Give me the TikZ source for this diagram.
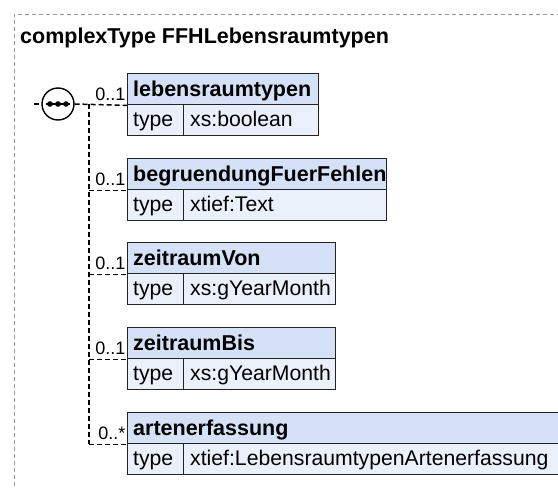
\documentclass[tikz,border=0pt]{standalone}
\usepackage{fontspec}
\setmainfont{Liberation Sans}
\definecolor{hdrblue}{RGB}{213,225,246}
\definecolor{rowblue}{RGB}{235,241,251}
\definecolor{edge}{RGB}{35,35,35}
\definecolor{framegray}{RGB}{150,150,150}
\tikzset{
  frameline/.style={draw=framegray, line width=0.8pt, dash pattern=on 4pt off 3pt},
  conn/.style={draw=black, line width=1.5pt, dash pattern=on 5pt off 3pt},
  boxhdr/.style={draw=edge, fill=hdrblue, line width=1.4pt, anchor=north west, inner sep=0pt, minimum height=31pt},
  boxrow/.style={draw=edge, fill=rowblue, line width=1.4pt, anchor=north west, inner sep=0pt, minimum height=31pt},
  hdrtext/.style={anchor=base west, inner sep=0pt, font=\bfseries\fontsize{21.5}{21.5}\selectfont},
  rowtext/.style={anchor=base west, inner sep=0pt, font=\fontsize{21.2}{21.2}\selectfont},
  multtext/.style={anchor=base east, inner sep=0pt, font=\fontsize{18}{18}\selectfont},
}
\begin{document}
\begin{tikzpicture}[x=1pt,y=-1pt]
\useasboundingbox (0,0) rectangle (558,488);
\clip (0,0) rectangle (558,488);
% outer frame
\draw[frameline] (14,500) -- (14,14) -- (570,14);
% title
\node[anchor=base west, inner sep=0pt, font=\bfseries\fontsize{21.5}{21.5}\selectfont] (title) at (20,43) {complexType FFHLebensraumtypen};
% elements
\foreach \n/\T/\R/\ti/\ty/\m in {
  1/73/318/lebensraumtypen/xs:boolean/0..1,
  2/158/386/begruendungFuerFehlen/xtief:Text/0..1,
  3/242/335/zeitraumVon/xs:gYearMonth/0..1,
  4/327/335/zeitraumBis/xs:gYearMonth/0..1,
  5/412/562/artenerfassung/xtief:LebensraumtypenArtenerfassung/0..*}{
  \node[boxhdr, minimum width={\R-127}] (h\n) at (127,\T) {};
  \node[boxrow, minimum width={\R-127}] (r\n) at (127,\T+31) {};
  \node[boxrow, minimum width=56] (k\n) at (127,\T+31) {};
  \node[hdrtext] (ht\n) at (133,\T+23) {\ti};
  \node[rowtext] (kt\n) at (133,\T+53) {type};
  \node[rowtext] (rt\n) at (190,\T+53) {\ty};
  \node[multtext] (m\n) at (125.5,\T+27) {\m};
}
% sequence compositor
\node[circle, draw=black, fill=white, line width=1.4pt, minimum size=32pt, inner sep=0pt] (seq) at (58,104) {};
\draw[line width=1.4pt] (seq.center) ++(-12,0) -- ++(24,0);
\foreach \dx in {-8,0,8}{\fill (seq.center) ++(\dx,0) circle (2.8);}
\coordinate (in) at (34,104);
\coordinate (bustop) at (89,104);
\draw[conn] (in) -- (seq.west);
\draw[conn] (seq.east) -- (h1.south west);
\draw[conn] (bustop) -- (bustop |- h5.south west);
\foreach \n in {2,3,4,5}{
  \draw[conn] (bustop |- h\n.south west) -- (h\n.south west);
}
\end{tikzpicture}
\end{document}
